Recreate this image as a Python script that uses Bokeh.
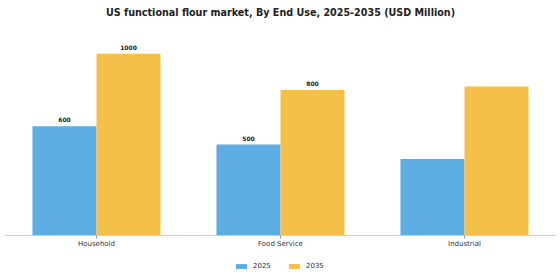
from bokeh.plotting import figure
from bokeh.models import ColumnDataSource, Range1d, FactorRange, Legend, LegendItem
from bokeh.transform import dodge
from bokeh.core.properties import value
from bokeh.embed import file_html
from bokeh.resources import INLINE

categories = ["Household", "Food Service", "Industrial"]
years = ["2025", "2035"]
values_2025 = [600, 500, 420]
values_2035 = [1000, 800, 820]
labels_2025 = ["600", "500", ""]
labels_2035 = ["1000", "800", ""]

colors = ["#5DADE2", "#F5C04A"]

src = ColumnDataSource(dict(cat=categories, v25=values_2025, v35=values_2035,
                            l25=labels_2025, l35=labels_2035))

p = figure(frame_width=552, frame_height=258, x_range=FactorRange(*categories, range_padding=0),
           y_range=Range1d(-244, 1178), output_backend="svg", toolbar_location=None,
           min_border_left=4, min_border_right=4, min_border_top=0, min_border_bottom=0)

p.title.text = "US functional flour market, By End Use, 2025-2035 (USD Million)"
p.title.align = "center"
p.title.text_font = "DejaVu Sans"
p.title.text_font_size = "9.6px"
p.title.text_font_style = "bold"
p.title.text_color = "#222222"
p.title.standoff = 8

w = 0.348
r1 = p.vbar(x=dodge("cat", -w / 2, range=p.x_range), top="v25", width=w, source=src,
            fill_color=colors[0], line_color=None)
r2 = p.vbar(x=dodge("cat", w / 2, range=p.x_range), top="v35", width=w, source=src,
            fill_color=colors[1], line_color=None)

for col, lab in [("v25", "l25"), ("v35", "l35")]:
    off = -w / 2 if col == "v25" else w / 2
    p.text(x=dodge("cat", off, range=p.x_range), y=col, text=lab, source=src,
           text_align="center", text_baseline="bottom", y_offset=-4,
           text_font=value("DejaVu Sans"), text_font_size="6px",
           text_font_style="bold", text_color="#222222")

p.yaxis.visible = False
p.xgrid.grid_line_color = None
p.ygrid.grid_line_color = None
p.outline_line_color = None
p.xaxis.fixed_location = 0
p.xaxis.axis_line_color = "#cccccc"
p.xaxis.major_tick_line_color = "#999999"
p.xaxis.major_tick_out = 3
p.xaxis.major_tick_in = 0
p.xaxis.major_label_text_font = "DejaVu Sans"
p.xaxis.major_label_text_font_size = "7px"
p.xaxis.major_label_text_color = "#333333"
p.xaxis.major_label_standoff = 2

legend = Legend(items=[LegendItem(label=years[0], renderers=[r1]),
                       LegendItem(label=years[1], renderers=[r2])],
                orientation="horizontal", location="bottom_center",
                glyph_width=14, glyph_height=6, label_height=8,
                label_text_font="DejaVu Sans",
                label_text_font_size="7px", label_text_color="#333333",
                border_line_color=None, spacing=14, padding=2, margin=9,
                background_fill_alpha=0)
p.add_layout(legend, "center")

open("out.html", "w").write(file_html(p, INLINE))
